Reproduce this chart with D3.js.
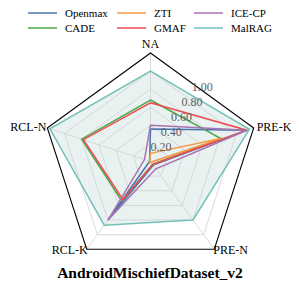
<!DOCTYPE html>
<html>
<head>
<meta charset="utf-8">
<script src="https://cdn.jsdelivr.net/npm/d3@7"></script>
<style>
  body { margin: 0; background: #fff; }
  svg { display: block; }
</style>
</head>
<body>
<svg id="radar"></svg>
<script>
var axesNames = ["NA", "PRE-K", "PRE-N", "RCL-K", "RCL-N"]
var seriesNames = ["Openmax", "CADE", "ZTI", "GMAF", "ICE-CP", "MalRAG"]
var seriesColors = ["#4a74b0", "#4aa84a", "#f59a3c", "#ee4c4f", "#a673b0", "#72c1b7"]

// values per axis, same order as axesNames
var openmax = [0.36, 1.12, 0.05, 0.80, 0.01]
var cade    = [0.68, 0.82, 0.04, 0.54, 0.80]
var zti     = [0.09, 0.83, 0.01, 0.02, 0.01]
var gmaf    = [0.65, 1.12, 0.04, 0.52, 0.78]
var icecp   = [0.40, 1.12, 0.10, 0.80, 0.07]
var malrag  = [1.00, 1.15, 0.80, 0.87, 1.17]

var ringTicks = [0.2, 0.4, 0.6, 0.8, 1.0]
var tickLabels = ["0.20", "0.40", "0.60", "0.80", "1.00"]
var rMax = 1.2

var allSeries = [openmax, cade, zti, gmaf, icecp, malrag]

var serif = "'Liberation Serif', 'Times New Roman', Times, 'Nimbus Roman', 'Noto Serif', 'DejaVu Serif', Georgia, serif"
var screen = {width: 299, height: 288}
var center = {x: 150.5, y: 161.5}
var radius = 108.5

var svg = d3.select("#radar")
    .attr("width", screen.width)
    .attr("height", screen.height)
    .style("font-family", serif)

var rScale = d3.scaleLinear()
    .domain([0, rMax])
    .range([0, radius])

var angleOf = function(i)
{
    return i * 2 * Math.PI / axesNames.length
}

var point = function(i, v)
{
    var a = angleOf(i)
    return [rScale(v) * Math.sin(a), -rScale(v) * Math.cos(a)]
}

var g = svg.append("g")
    .attr("transform", "translate(" + center.x + "," + center.y + ")")

var ringLine = d3.lineRadial()
    .angle(function(d, i) {return angleOf(i)})
    .radius(function(d) {return rScale(d)})
    .curve(d3.curveLinearClosed)

// fill of MalRAG first so grid stays visible on top
g.append("path")
    .attr("d", ringLine(malrag))
    .attr("fill", "#8fb8b8")
    .attr("fill-opacity", 0.2)
    .attr("stroke", "none")

// grid rings
g.selectAll(".ring")
    .data(ringTicks)
    .enter()
    .append("path")
    .classed("ring", true)
    .attr("d", function(t) {return ringLine(axesNames.map(function() {return t}))})
    .attr("fill", "none")
    .attr("stroke", "#d0d0d0")
    .attr("stroke-width", 0.8)

// spokes
g.selectAll(".spoke")
    .data(axesNames)
    .enter()
    .append("line")
    .classed("spoke", true)
    .attr("x1", 0)
    .attr("y1", 0)
    .attr("x2", function(d, i) {return point(i, rMax)[0]})
    .attr("y2", function(d, i) {return point(i, rMax)[1]})
    .attr("stroke", "#d0d0d0")
    .attr("stroke-width", 0.8)

// series
g.selectAll(".series")
    .data(allSeries)
    .enter()
    .append("path")
    .classed("series", true)
    .attr("d", function(d) {return ringLine(d)})
    .attr("fill", "none")
    .attr("stroke", function(d, i) {return seriesColors[i]})
    .attr("stroke-width", 1.5)
    .attr("stroke-linejoin", "miter")

// outer frame
g.append("path")
    .attr("d", ringLine(axesNames.map(function() {return rMax})))
    .attr("fill", "none")
    .attr("stroke", "#000")
    .attr("stroke-width", 1.1)

// radial tick labels
var labelAngle = 35 * Math.PI / 180
g.selectAll(".tick")
    .data(ringTicks)
    .enter()
    .append("text")
    .classed("tick", true)
    .attr("x", function(t) {return rScale(t) * Math.sin(labelAngle)})
    .attr("y", function(t) {return -rScale(t) * Math.cos(labelAngle) + 4})
    .attr("text-anchor", "middle")
    .attr("font-size", 12)
    .attr("fill", "#606060")
    .text(function(t, i) {return tickLabels[i]})

// axis labels
var labelPlace = [
    {dx: 0, dy: -5, anchor: "middle"},
    {dx: 3, dy: 3, anchor: "start"},
    {dx: -1, dy: 5, anchor: "start"},
    {dx: 1, dy: 5, anchor: "end"},
    {dx: -1, dy: 3, anchor: "end"}
]
g.selectAll(".axisname")
    .data(axesNames)
    .enter()
    .append("text")
    .classed("axisname", true)
    .attr("x", function(d, i) {return point(i, rMax)[0] + labelPlace[i].dx})
    .attr("y", function(d, i) {return point(i, rMax)[1] + labelPlace[i].dy})
    .attr("text-anchor", function(d, i) {return labelPlace[i].anchor})
    .attr("font-size", 12)
    .attr("fill", "#000")
    .text(function(d) {return d})

// legend, 3 columns filled column-wise
var legend = svg.append("g")
var colX = [28, 117, 194]
var rowY = [13, 28]
var items = legend.selectAll(".item")
    .data(seriesNames)
    .enter()
    .append("g")
    .classed("item", true)
    .attr("transform", function(d, i)
    {
        return "translate(" + colX[Math.floor(i / 2)] + "," + rowY[i % 2] + ")"
    })
items.append("line")
    .attr("x1", 0)
    .attr("x2", 29)
    .attr("y1", 0)
    .attr("y2", 0)
    .attr("stroke", function(d, i) {return seriesColors[i]})
    .attr("stroke-width", 1.5)
items.append("text")
    .attr("x", 37)
    .attr("y", 4)
    .attr("font-size", 11)
    .attr("fill", "#000")
    .text(function(d) {return d})

// title
svg.append("text")
    .attr("x", 150)
    .attr("y", 278)
    .attr("text-anchor", "middle")
    .attr("font-size", 15.5)
    .attr("font-weight", "bold")
    .attr("fill", "#000")
    .text("AndroidMischiefDataset_v2")
</script>
</body>
</html>
